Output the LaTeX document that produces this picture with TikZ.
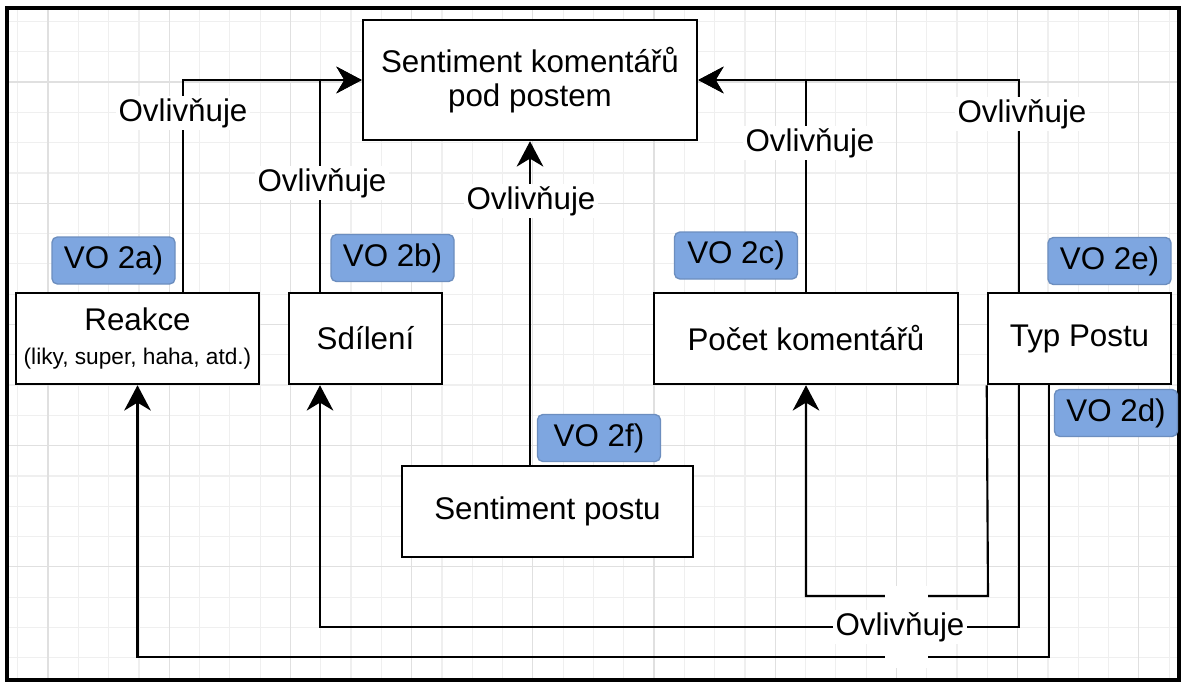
\documentclass[tikz,border=0pt]{standalone}
\usepackage{fontspec}
\setmainfont{Liberation Sans}
\usetikzlibrary{arrows.meta}
\definecolor{badgefill}{HTML}{7EA6E0}
\definecolor{badgeline}{HTML}{6C8EBF}
\definecolor{gridminor}{HTML}{EFEFEF}
\definecolor{gridmajor}{HTML}{E0E0E0}
\begin{document}
\begin{tikzpicture}[x=0.75pt,y=-0.75pt,
  txt/.style={font=\fontsize{23.5pt}{25pt}\selectfont},
  box/.style={txt, draw=black, line width=1.9pt, fill=white, inner sep=0pt, align=center},
  badge/.style={txt, draw=badgeline, line width=1pt, fill=badgefill, rounded corners=4pt, minimum width=92.25pt, minimum height=35.25pt, inner sep=0pt},
  conn/.style={draw=black, line width=1.6pt},
  arr/.style={conn, -{Stealth[length=19pt,width=20pt,inset=6pt]}},
  lbl/.style={txt, fill=white, inner sep=2pt},
]
\useasboundingbox (0,0) rectangle (1182,682);
\fill[white] (0,0) rectangle (1182,682);
\begin{scope}
\clip (7,8) rectangle (1179,680);
\foreach \i in {0,...,39} \draw[gridminor, line width=0.9pt] ({17.7+30.3*\i},0) -- ({17.7+30.3*\i},682);
\foreach \j in {0,...,22} \draw[gridminor, line width=0.9pt] (0,{21.4+30.3*\j}) -- (1182,{21.4+30.3*\j});
\foreach \i in {-1,...,9} \draw[gridmajor, line width=0.9pt] ({48+121.2*\i},0) -- ({48+121.2*\i},682);
\foreach \j in {-1,...,5} \draw[gridmajor, line width=0.9pt] (0,{82+121.2*\j}) -- (1182,{82+121.2*\j});
\end{scope}
\draw[line width=2.4pt] (7,8) rectangle (1179,680);

% boxes
\node[box, minimum width=250.5pt, minimum height=90pt] (top) at (530,80) {\raisebox{-4pt}{Sentiment komentářů}\\\raisebox{-4pt}{pod postem}};
\node[box, minimum width=182.25pt, minimum height=68.25pt] (reakce) at (137.5,338.5) {Reakce\\[1pt]{\fontsize{17pt}{18pt}\selectfont (liky, super, haha, atd.)}};
\node[box, minimum width=114.75pt, minimum height=68.25pt] (sdileni) at (365.5,338.5) {Sdílení};
\node[box, minimum width=228pt, minimum height=68.25pt] (pocet) at (806,338.5) {Počet komentářů};
\node[box, minimum width=137.25pt, minimum height=68.25pt] (typ) at (1079.5,338.5) {Typ Postu};
\node[box, minimum width=218.25pt, minimum height=68.25pt] (spostu) at (547.5,511.5) {Sentiment postu};

% junction coordinates
\coordinate (jL1) at (183,80);
\coordinate (jL2) at (320,80);
\coordinate (jR1) at (806,80);
\coordinate (jR2) at (1019,80);
\coordinate (b1) at (988,596);
\coordinate (b2) at (1019,627);
\coordinate (b3) at (1049,657);

% connectors to top box
\draw[arr] (reakce.north -| jL1) -- (jL1) -- (top.west);
\draw[arr] (sdileni.north -| jL2) -- (jL2) -- (top.west);
\draw[arr] (pocet.north) -- (jR1) -- (top.east);
\draw[arr] (typ.north -| jR2) -- (jR2) -- (top.east);
\draw[arr] (spostu.north -| top.south) -- (top.south);

% connectors from Typ Postu
\draw[arr] (typ.south west) -- (b1) -- (b1 -| pocet.south) -- (pocet.south);
\draw[arr] (typ.south -| b2) -- (b2) -- (b2 -| jL2) -- (sdileni.south -| jL2);
\draw[arr] (typ.south -| b3) -- (b3) -- (b3 -| reakce.south) -- (reakce.south);

% badges
\node[badge] (vo2a) at (113.5,260.5) {VO 2a)};
\node[badge] (vo2b) at (392.5,258) {VO 2b)};
\node[badge] (vo2c) at (736,255.5) {VO 2c)};
\node[badge] (vo2e) at (1109.5,261) {VO 2e)};
\node[badge] (vo2d) at (1116,413) {VO 2d)};
\node[badge] (vo2f) at (599,438) {VO 2f)};

% labels
\node[lbl] (l1) at (183,113) {Ovlivňuje};
\node[lbl] (l2) at (322,183) {Ovlivňuje};
\node[lbl] (l3) at (531,201) {Ovlivňuje};
\node[lbl] (l4) at (810,143) {Ovlivňuje};
\node[lbl] (l5) at (1022,114) {Ovlivňuje};
\fill[white] (885,586) rectangle (928,668);
\node[lbl] (l6) at (900,627) {Ovlivňuje};
\end{tikzpicture}
\end{document}
